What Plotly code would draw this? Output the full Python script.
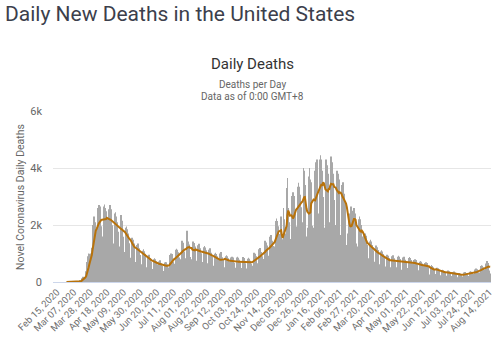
import pandas as pd
import plotly.graph_objects as go

# ---- data ----
start_date = "2020-02-27"

# daily new deaths, first partial week (Thu-Sat) then Sunday..Saturday rows
daily_deaths = [
    0, 0, 0,
    0, 1, 2, 3, 3, 3, 2,
    3, 5, 10, 14, 12, 12, 14,
    40, 60, 130, 170, 180, 160, 170,
    300, 380, 700, 900, 1000, 990, 840,
    1000, 1200, 2000, 2200, 2300, 2100, 1800,
    1400, 1550, 2600, 2700, 2650, 2400, 1960,
    1450, 1600, 2650, 2720, 2600, 2480, 2250,
    1300, 1450, 2550, 2700, 2550, 2300, 1990,
    1150, 1350, 2400, 2450, 2300, 2100, 1760,
    1080, 1250, 2200, 2350, 2150, 1980, 1590,
    900, 1050, 1900, 1950, 1850, 1700, 1360,
    720, 850, 1500, 1550, 1480, 1350, 1090,
    640, 700, 1300, 1350, 1300, 1180, 950,
    540, 620, 1100, 1150, 1080, 990, 820,
    450, 520, 920, 960, 920, 840, 710,
    390, 460, 800, 830, 800, 730, 610,
    360, 420, 720, 760, 720, 660, 560,
    330, 390, 680, 700, 690, 620, 510,
    450, 540, 950, 1000, 980, 900, 710,
    540, 640, 1130, 1170, 1130, 1040, 860,
    680, 800, 1400, 1450, 1380, 1270, 1070,
    700, 830, 1800, 1450, 1420, 1320, 880,
    680, 800, 1380, 1420, 1370, 1250, 1080,
    640, 750, 1290, 1340, 1280, 1180, 1010,
    600, 700, 1220, 1260, 1210, 1110, 970,
    560, 660, 1130, 1180, 1130, 1030, 890,
    490, 570, 990, 1030, 980, 900, 780,
    360, 400, 1000, 1050, 960, 870, 820,
    450, 520, 900, 940, 900, 830, 710,
    430, 500, 860, 890, 860, 790, 675,
    430, 500, 860, 890, 850, 780, 681,
    420, 490, 840, 880, 840, 770, 660,
    410, 470, 820, 850, 820, 750, 640,
    480, 570, 990, 1030, 990, 900, 780,
    560, 660, 1150, 1190, 1140, 1050, 900,
    690, 810, 1400, 1450, 1390, 1280, 1100,
    790, 920, 1590, 1650, 1580, 1450, 1260,
    1060, 1250, 2140, 2230, 2140, 1960, 1680,
    1100, 1300, 2300, 1000, 1500, 2600, 2200,
    1500, 1700, 3300, 3650, 2600, 2100, 1460,
    1510, 1760, 3020, 3150, 3020, 2770, 2410,
    1670, 1950, 3340, 3480, 3340, 3060, 2620,
    1800, 2100, 4000, 3900, 3400, 1300, 1600,
    1000, 1900, 3700, 4000, 3600, 3500, 1970,
    1600, 1900, 3600, 3900, 4200, 4300, 2200,
    2100, 2400, 4300, 4450, 4300, 3900, 2980,
    1900, 1300, 3900, 4300, 4100, 3800, 3520,
    1900, 2100, 4400, 4200, 4100, 3800, 2880,
    1800, 2000, 3900, 3900, 3800, 3600, 3050,
    1650, 1850, 3400, 3500, 3300, 3100, 2800,
    1300, 1000, 1700, 2300, 2400, 2300, 2650,
    1400, 1650, 2500, 2600, 2400, 2100, 1350,
    1050, 1250, 2200, 2300, 2200, 2000, 1600,
    800, 950, 1650, 1700, 1620, 1500, 1300,
    700, 830, 1420, 1480, 1420, 1300, 1110,
    610, 710, 1230, 1280, 1220, 1120, 970,
    530, 620, 1070, 1110, 1070, 980, 850,
    460, 540, 920, 960, 920, 840, 715,
    450, 520, 900, 940, 900, 830, 710,
    440, 520, 890, 920, 890, 810, 710,
    430, 500, 860, 890, 850, 780, 681,
    420, 490, 840, 880, 840, 770, 660,
    380, 450, 770, 800, 770, 700, 610,
    350, 410, 710, 740, 710, 650, 560,
    330, 390, 670, 690, 670, 610, 525,
    260, 150, 540, 600, 560, 520, 450,
    240, 280, 480, 500, 480, 440, 380,
    200, 240, 410, 430, 410, 370, 320,
    190, 220, 380, 400, 380, 350, 320,
    180, 210, 350, 370, 350, 330, 275,
    150, 170, 300, 310, 300, 280, 240,
    160, 190, 330, 350, 340, 310, 266,
    180, 210, 360, 380, 360, 330, 280,
    220, 260, 440, 470, 450, 410, 340,
    280, 330, 560, 590, 570, 520, 440,
    320, 370, 650, 740, 670, 590, 405,
    300,
]

tick_labels = [
    "Feb 15, 2020", "Mar 07, 2020", "Mar 28, 2020", "Apr 18, 2020",
    "May 09, 2020", "May 30, 2020", "Jun 20, 2020", "Jul 11, 2020",
    "Aug 01, 2020", "Aug 22, 2020", "Sep 12, 2020", "Oct 03, 2020",
    "Oct 24, 2020", "Nov 14, 2020", "Dec 05, 2020", "Dec 26, 2020",
    "Jan 16, 2021", "Feb 06, 2021", "Feb 27, 2021", "Mar 20, 2021",
    "Apr 10, 2021", "May 01, 2021", "May 22, 2021", "Jun 12, 2021",
    "Jul 03, 2021", "Jul 24, 2021", "Aug 14, 2021",
]
y_tick_values = [0, 2000, 4000, 6000]
y_tick_labels = ["0", "2k", "4k", "6k"]

# ---- derived ----
dates = pd.date_range(start_date, periods=len(daily_deaths), freq="D")
series = pd.Series(daily_deaths, index=dates)
avg7 = series.rolling(7, min_periods=1).mean()
tick_vals = [pd.to_datetime(t, format="%b %d, %Y") for t in tick_labels]

W, H = 501, 337
L, R = 53, 491
TOP, BOT = 111, 282
pw, ph = R - L, BOT - TOP

def px(x):
    return (x - L) / pw

def py(y):
    return (BOT - y) / ph

fig = go.Figure()
fig.add_trace(go.Bar(
    x=dates, y=series.values,
    marker=dict(color="#a8a8a8", line=dict(width=0)),
    name="Daily Deaths",
))
fig.add_trace(go.Scatter(
    x=dates, y=avg7.values, mode="lines",
    line=dict(color="#b8720a", width=2),
    name="7-day average",
))

font_family = "Roboto, 'Open Sans', Arial, sans-serif"

fig.update_layout(
    width=W, height=H,
    margin=dict(l=L, r=W - R, t=TOP, b=H - BOT, pad=0, autoexpand=False),
    paper_bgcolor="white", plot_bgcolor="white",
    showlegend=False, bargap=0.28,
    font=dict(family=font_family, color="#666666"),
    title=dict(
        text="Daily New Deaths in the United States",
        xref="container", yref="container",
        x=5 / W, xanchor="left", y=1 - 14 / H, yanchor="middle",
        font=dict(size=21, color="#3c3f4c", family=font_family),
    ),
    xaxis=dict(
        type="date", automargin=False,
        range=["2020-02-10", "2021-08-16"],
        tickvals=tick_vals, ticktext=tick_labels,
        tickangle=-45, tickfont=dict(size=9.5, color="#6e6e6e"),
        showgrid=False, showline=True, linecolor="#ccd6eb", linewidth=1,
        ticks="", zeroline=False,
    ),
    yaxis=dict(
        range=[0, 6000], automargin=False,
        tickvals=y_tick_values, ticktext=y_tick_labels,
        tickfont=dict(size=11, color="#666666"),
        showgrid=True, gridcolor="#e6e6e6", gridwidth=1,
        zeroline=False, showline=False, ticks="", ticklabelstandoff=10,
    ),
)

fig.add_annotation(text="Daily Deaths", xref="paper", yref="paper",
                   x=px(252), y=py(64), showarrow=False,
                   xanchor="center", yanchor="middle",
                   font=dict(size=15, color="#333333"))
fig.add_annotation(text="Deaths per Day", xref="paper", yref="paper",
                   x=px(252), y=py(84), showarrow=False,
                   xanchor="center", yanchor="middle",
                   font=dict(size=10, color="#666666"))
fig.add_annotation(text="Data as of 0:00 GMT+8", xref="paper", yref="paper",
                   x=px(252), y=py(97), showarrow=False,
                   xanchor="center", yanchor="middle",
                   font=dict(size=10, color="#666666"))
fig.add_annotation(text="Novel Coronavirus Daily Deaths", xref="paper", yref="paper",
                   x=px(20), y=py(197), showarrow=False, textangle=-90,
                   xanchor="center", yanchor="middle",
                   font=dict(size=10.5, color="#666666"))

fig.write_html("out.html")
